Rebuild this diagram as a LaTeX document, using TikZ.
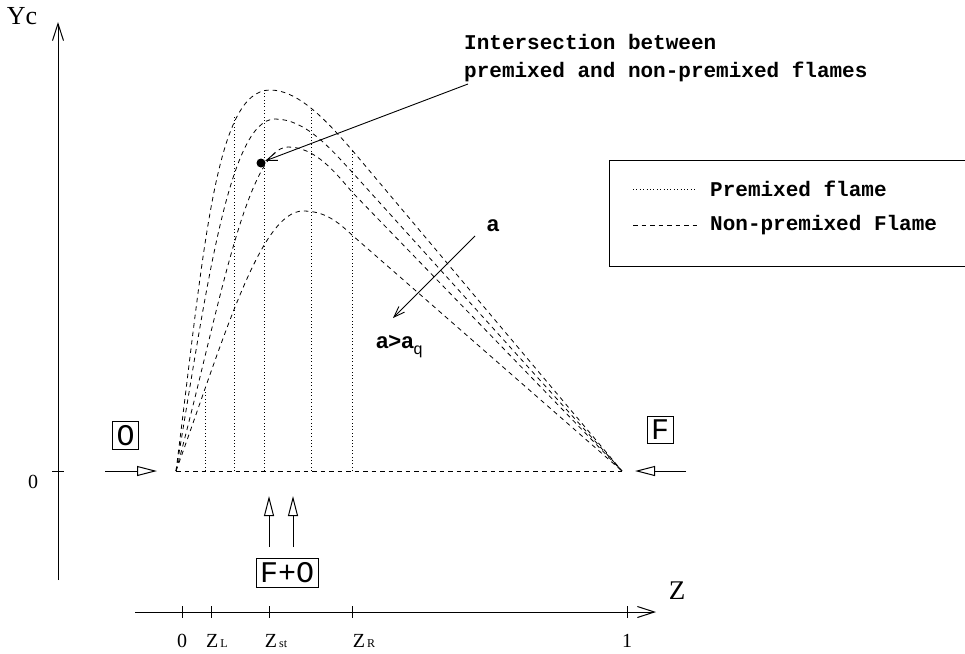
\documentclass[tikz,border=0pt]{standalone}
\usepackage{fontspec}
\setmainfont{Liberation Serif}
\newfontfamily\courierfont{Liberation Mono}
\newfontfamily\helvfont{Liberation Sans}
\usetikzlibrary{positioning, calc, arrows.meta}

\tikzset{
  axisline/.style={line width=1pt, -{Straight Barb[length=17pt,width=11pt]}},
  flowarrow/.style={line width=1pt, -{Triangle[open,length=20pt,width=10pt]}},
  leader/.style={line width=0.9pt, -{Straight Barb[length=11pt,width=8pt]}},
  nonpremixed/.style={line width=0.8pt, dash pattern=on 4.5pt off 4pt},
  premixed/.style={line width=0.8pt, dash pattern=on 0.8pt off 2.6pt},
  streambox/.style={draw, line width=0.9pt, inner sep=4pt, font=\courierfont\fontsize{30}{30}\selectfont},
  boldmono/.style={font=\courierfont\bfseries\fontsize{21}{28}\selectfont, inner sep=0pt},
  boldsans/.style={font=\helvfont\bfseries\fontsize{22}{22}\selectfont, inner sep=0pt},
  ticklabel/.style={font=\fontsize{20}{20}\selectfont, inner sep=0pt, anchor=base},
}
\newcommand{\smallsub}[1]{{\fontsize{12}{12}\selectfont\,#1}}

\begin{document}
\begin{tikzpicture}[x=1pt, y=-1pt]
  \useasboundingbox (0,0) rectangle (965,653);

  % ===================================================
  % 1. AXES
  % ===================================================

  % Yc axis
  \coordinate (ybot) at (58,580);
  \coordinate (ytop) at (58,22);
  \draw[axisline] (ybot) -- (ytop);
  \node[font=\fontsize{26}{26}\selectfont, inner sep=0pt] (yclab) at (22,16) {Yc};
  \coordinate (ytickl) at (52,471);
  \coordinate (ytickr) at (64,471);
  \draw[line width=1pt] (ytickl) -- (ytickr);
  \node[ticklabel] (yzero) at (33,488) {0};

  % Z axis
  \coordinate (zleft) at (135,612);
  \coordinate (zright) at (656,612);
  \draw[axisline] (zleft) -- (zright);
  \node[font=\fontsize{27}{27}\selectfont, inner sep=0pt] (zlab) at (677,591) {Z};
  \foreach \tx in {182, 211, 269, 352, 627} {
    \draw[line width=1pt] (\tx,606) -- (\tx,618);
  }
  \node[ticklabel] (lab0) at (182,647) {0};
  \node[ticklabel] (labl) at (217,647) {Z\smallsub{L}};
  \node[ticklabel] (labst) at (276,647) {Z\smallsub{st}};
  \node[ticklabel] (labr) at (364,647) {Z\smallsub{R}};
  \node[ticklabel] (lab1) at (627,647) {1};

  % ===================================================
  % 2. FLAME CURVES
  % ===================================================
  \coordinate (fleft) at (176,471);
  \coordinate (fright) at (622,471);
  \draw[nonpremixed] (fleft) -- (fright);

  % non-premixed flames, strain rate a growing downwards
  \draw[nonpremixed] (fleft) .. controls (204,250) and (215,90) .. (270,90)
        .. controls (300,90) and (330,125) .. (352,150) -- (fright);
  \draw[nonpremixed] (fleft) .. controls (205,300) and (228,119) .. (275,119)
        .. controls (305,119) and (330,148) .. (352,172) -- (fright);
  \draw[nonpremixed] (fleft) .. controls (215,330) and (245,147) .. (288,147)
        .. controls (315,147) and (335,172) .. (352,192) -- (fright);
  \draw[nonpremixed] (fleft) .. controls (222,344) and (260,211) .. (303,211)
        .. controls (325,211) and (338,222) .. (352,235) -- (fright);

  % premixed flames
  \foreach \px/\py in {205/390, 234/115, 264/90, 311/109, 352/150} {
    \draw[premixed] (\px,471) -- (\px,\py);
  }

  % intersection point
  \fill (261,163) circle (4.5pt) coordinate (cross);
  \node[boldmono, align=left, anchor=north west] (crosstext) at (464,34)
    {Intersection between\\premixed and non-premixed flames};
  \coordinate (leadstart) at (468,84);
  \draw[leader] (leadstart) -- ($(cross)+(4,-2)$);

  % strain rate arrow
  \node[boldsans] (alab) at (493,226) {a};
  \coordinate (astart) at (475,236);
  \coordinate (aend) at (393,318);
  \draw[leader] (astart) -- (aend);
  \node[boldsans, anchor=base west] (aqlab) at (376,348)
    {a>a\raisebox{-6pt}{\mdseries\fontsize{16}{16}\selectfont q}};

  % ===================================================
  % 3. STREAMS
  % ===================================================
  \node[streambox] (oxbox) at (125.5,435.5) {O};
  \coordinate (oxin) at (105,471);
  \coordinate (oxtip) at (157,471);
  \draw[flowarrow] (oxin) -- (oxtip);

  \node[streambox] (fuelbox) at (660,430) {F};
  \coordinate (fuelin) at (686,471);
  \coordinate (fueltip) at (635,471);
  \draw[flowarrow] (fuelin) -- (fueltip);

  \node[streambox] (mixbox) at (287,573) {F+O};
  \coordinate (mixa) at (269,547);
  \coordinate (mixb) at (293,547);
  \draw[flowarrow] (mixa) -- (269,496);
  \draw[flowarrow] (mixb) -- (293,496);

  % ===================================================
  % 4. LEGEND
  % ===================================================
  \draw[line width=0.9pt] (966,160) -- (609,160) -- (609,266) -- (966,266);
  \coordinate (lga) at (633,189);
  \coordinate (lgb) at (697,189);
  \draw[premixed] (lga) -- (lgb);
  \node[boldmono, anchor=west] (premlab) at (710,189) {Premixed flame};
  \coordinate (lgc) at (633,225);
  \coordinate (lgd) at (697,225);
  \draw[nonpremixed] (lgc) -- (lgd);
  \node[boldmono, anchor=west] (nonpremlab) at (710,225) {Non-premixed Flame};

\end{tikzpicture}
\end{document}
